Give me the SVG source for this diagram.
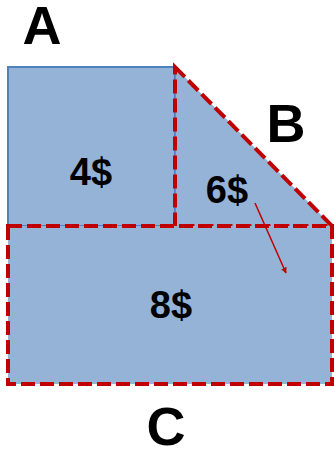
<svg xmlns="http://www.w3.org/2000/svg" width="334" height="455" viewBox="0 0 334 455">
<style>
.fill{fill:#95b3d7}
.dash{fill:none;stroke:#c00000;stroke-width:4;stroke-dasharray:14 5}
.lbl{font-family:"Liberation Sans",Arial,sans-serif;font-weight:bold;fill:#000;text-anchor:middle}
.big{font-size:54px}
.price{font-size:38px}
</style>
<defs>
<marker id="ah" viewBox="0 0 10 10" refX="9" refY="5" markerWidth="6" markerHeight="6" orient="auto" markerUnits="userSpaceOnUse">
<path d="M0,0 L10,5 L0,10 z" fill="#c00000"/>
</marker>
</defs>
<rect width="334" height="455" fill="#fff"/>
<g id="A">
<rect class="fill" x="8" y="67" width="167" height="159" stroke="#4f81bd" stroke-width="2"/>
<text class="lbl price" x="91" y="185">4$</text>
</g>
<g id="B">
<polygon class="fill" points="175,67 332,226 175,226"/>
<line x1="175" y1="67" x2="175" y2="226" stroke="#4f81bd" stroke-width="1.5"/>
<polygon class="dash" points="175,67 332,226 175,226"/>
<text class="lbl price" x="227" y="203">6$</text>
</g>
<g id="C">
<rect class="fill" x="8" y="226" width="324" height="158"/>
<rect class="dash" x="8" y="226" width="324" height="158"/>
<text class="lbl price" x="171" y="318">8$</text>
</g>
<g id="connectors">
<line x1="255" y1="203" x2="286" y2="273" stroke="#c00000" stroke-width="1.5" marker-end="url(#ah)"/>
</g>
<g id="labels">
<text class="lbl big" x="42" y="44">A</text>
<text class="lbl big" x="286" y="142">B</text>
<text class="lbl big" x="166" y="445">C</text>
</g>
</svg>
